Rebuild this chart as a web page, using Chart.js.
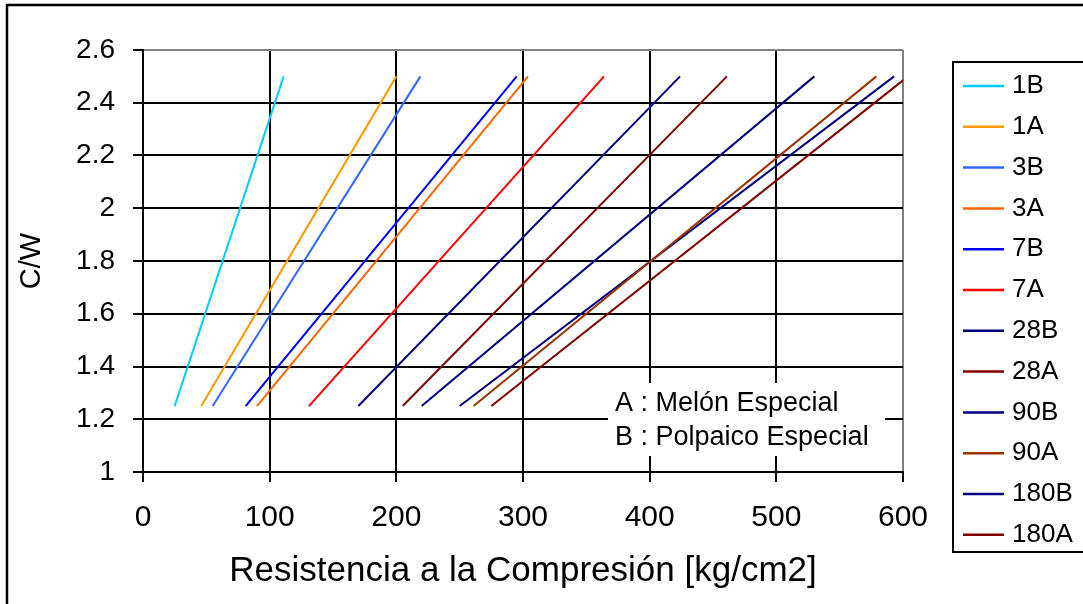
<!DOCTYPE html>
<html>
<head>
<meta charset="utf-8">
<script src="https://cdn.jsdelivr.net/npm/chart.js@4.4.0/dist/chart.umd.min.js"></script>
<style>
  html, body { margin: 0; padding: 0; background: #fff; }
  canvas { display: block; }
</style>
</head>
<body>
<canvas id="grafica" width="1083" height="604" style="width:1083px;height:604px"></canvas>
<script>
// Series (edad + cemento), extremos
const series = ["1B", "1A", "3B", "3A", "7B", "7A", "28B", "28A", "90B", "90A", "180B", "180A"];
const colores = ["#00CCFF", "#FF9900", "#3366FF", "#FF6600", "#0000FF", "#FF0000",
                 "#000080", "#800000", "#000080", "#993300", "#000080", "#800000"];
const resistInicio = [25, 46, 55, 90, 81, 131, 170, 205, 220, 261, 250, 275];
const resistFin = [111, 200, 219, 304, 295, 364, 424, 461, 530, 579, 593, 604];
const cwInicio = [1.25, 1.25, 1.25, 1.25, 1.25, 1.25, 1.25, 1.25, 1.25, 1.25, 1.25, 1.25];
const cwFin = [2.5, 2.5, 2.5, 2.5, 2.5, 2.5, 2.5, 2.5, 2.5, 2.5, 2.5, 2.5];

const ticksX = [0, 100, 200, 300, 400, 500, 600];
const ticksY = [1, 1.2, 1.4, 1.6, 1.8, 2, 2.2, 2.4, 2.6];
const notas = ["A : Melón Especial", "B : Polpaico Especial"];

const fuente = "'Liberation Sans', Arial, sans-serif";

const datasets = series.map((nombre, i) => ({
    label: nombre,
    data: [{ x: resistInicio[i], y: cwInicio[i] }, { x: resistFin[i], y: cwFin[i] }],
    borderColor: colores[i],
    backgroundColor: colores[i],
    borderWidth: 2,
    showLine: true,
    pointRadius: 0,
    fill: false
}));

// marco, leyenda y notas dibujadas a mano
const extras = {
    id: "extras",
    beforeDraw(chart) {
        const c = chart.ctx;
        c.save();
        c.fillStyle = "#fff";
        c.fillRect(0, 0, chart.width, chart.height);
        c.restore();
    },
    afterDatasetsDraw(chart) {
        const c = chart.ctx;
        c.save();
        // caja de notas
        c.fillStyle = "#fff";
        c.fillRect(608, 383, 277, 73);
        c.fillStyle = "#000";
        c.font = "27px " + fuente;
        c.textBaseline = "middle";
        c.textAlign = "left";
        notas.forEach((t, i) => c.fillText(t, 615, 404 + i * 34));
        c.restore();
    },
    afterDraw(chart) {
        const c = chart.ctx;
        c.save();
        // marco exterior
        c.strokeStyle = "#000";
        c.lineWidth = 2.5;
        c.strokeRect(7, 5, 1100, 700);
        // leyenda
        c.lineWidth = 2;
        c.strokeRect(953, 62, 200, 490);
        c.font = "26px " + fuente;
        c.textBaseline = "middle";
        c.textAlign = "left";
        chart.data.datasets.forEach((ds, i) => {
            const y = 86 + i * 40.8;
            c.strokeStyle = ds.borderColor;
            c.lineWidth = 2.5;
            c.beginPath();
            c.moveTo(963, y);
            c.lineTo(1004, y);
            c.stroke();
            c.fillStyle = "#000";
            c.fillText(ds.label, 1012, y);
        });
        c.restore();
    }
};

const ctx = document.getElementById("grafica").getContext("2d");
const grafica = new Chart(ctx, {
    type: "scatter",
    data: { datasets: datasets },
    options: {
        responsive: false,
        animation: false,
        layout: { padding: { left: 0, top: 50, right: 180, bottom: 0 } },
        plugins: {
            legend: { display: false },
            tooltip: { enabled: false }
        },
        scales: {
            x: {
                type: "linear",
                min: 0,
                max: 600,
                afterFit: s => { s.height = 132; },
                afterBuildTicks: s => { s.ticks = ticksX.map(v => ({ value: v })); },
                ticks: {
                    color: "#000",
                    font: { family: fuente, size: 30 },
                    padding: 18,
                    maxRotation: 0,
                    callback: v => String(v)
                },
                grid: {
                    color: c => (c.tick && c.tick.value === 600 ? "#808080" : "#000"),
                    tickColor: "#000",
                    lineWidth: 2,
                    tickLength: 10
                },
                border: { color: "#000", width: 2 },
                title: {
                    display: true,
                    text: "Resistencia a la Compresión [kg/cm2]",
                    color: "#000",
                    font: { family: fuente, size: 35 },
                    padding: { top: 12, bottom: 12 }
                }
            },
            y: {
                type: "linear",
                min: 1,
                max: 2.6,
                afterFit: s => { s.width = 143; },
                afterBuildTicks: s => { s.ticks = ticksY.map(v => ({ value: v })); },
                ticks: {
                    color: "#000",
                    font: { family: fuente, size: 28 },
                    padding: 18,
                    callback: v => String(v)
                },
                grid: {
                    color: c => (c.tick && Math.abs(c.tick.value - 2.6) < 1e-6 ? "#808080" : "#000"),
                    tickColor: "#000",
                    lineWidth: 2,
                    tickLength: 10
                },
                border: { color: "#000", width: 2 },
                title: {
                    display: true,
                    text: "C/W",
                    color: "#000",
                    font: { family: fuente, size: 29 },
                    padding: { top: 15, bottom: 15 }
                }
            }
        }
    },
    plugins: [extras]
});
</script>
</body>
</html>
